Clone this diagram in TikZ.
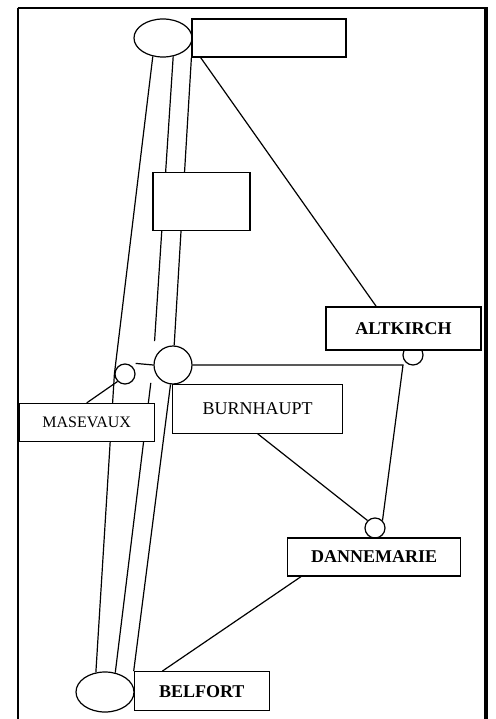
\documentclass[tikz,border=0pt]{standalone}
\usepackage{fontspec}
\setmainfont{Liberation Serif}
\usetikzlibrary{shapes.geometric,backgrounds}

\begin{document}
\begin{tikzpicture}[x=1pt,y=-1pt,line width=1.2pt,
    town/.style={draw,fill=white,rectangle,inner sep=0,font=\fontsize{18}{20}\selectfont},
    townbold/.style={town,font=\fontsize{18}{20}\selectfont\bfseries},
    stop/.style={draw,fill=white,circle,inner sep=0,minimum size=20},
    gare/.style={draw,fill=white,ellipse,inner sep=0,minimum width=58,minimum height=38}]
    \useasboundingbox (0,0) rectangle (495,719);
    %cadre
    \draw[line width=1.5pt] (18,719) -- (18,8.5);
    \draw[line width=2pt] (17.5,8.5) -- (486,8.5);
    \draw[line width=4pt] (486,7.5) -- (486,719);

    %gares
    \node[gare] (ellTop) at (163,38) {};
    \node[gare,minimum height=40] (ellBot) at (105,692) {};
    \node[town,minimum width=154,minimum height=38] (boxTop) at (269,38) {};
    \node[town,minimum width=97,minimum height=58] (boxMid) at (201.5,201.5) {};

    %arrets
    \node[stop,minimum size=38] (burnCirc) at (173,365) {};
    \node[stop] (masCirc) at (125,374) {};
    \node[stop] (altCirc) at (413,355) {};
    \node[stop] (danCirc) at (375,528) {};
    \coordinate (midKink) at (153,365);
    \coordinate (altJoint) at (403,365);

    %villes
    \node[townbold,minimum width=155,minimum height=43] (altBox) at (403.5,328.5) {ALTKIRCH};
    \node[town,font=\fontsize{16}{18}\selectfont,minimum width=135,minimum height=38] (masBox) at (86.7,422.5) {MASEVAUX};
    \node[town,minimum width=170,minimum height=49] (burnBox) at (257.7,408.7) {BURNHAUPT};
    \node[townbold,minimum width=173,minimum height=38] (danBox) at (374.2,557) {DANNEMARIE};
    \node[townbold,minimum width=135,minimum height=39] (belBox) at (201.8,691.2) {BELFORT};

    \begin{pgfonlayer}{background}
    \begin{scope}[line width=1.2pt]
        %voies
        \draw (ellTop.241) -- (masCirc.west) -- (ellBot.115);
        \draw[shorten >=24pt] (ellTop.299) -- (midKink);
        \draw[shorten <=18pt] (midKink) -- (ellBot.62);
        \draw (boxTop.south west) -- (burnCirc) -- (belBox.north west);
        %liaisons
        \draw (masCirc.north -| masCirc.east) -- (burnCirc.west);
        \draw (masCirc.south west) -- (masBox.north);
        \draw (burnCirc.east) -- (altJoint) -- (danCirc.north east);
        \draw (boxTop.196.5) -- (altBox.141.7);
        \draw (burnBox.south) -- (danCirc.north west);
        \draw (danBox.195.7) -- (belBox.153);
    \end{scope}
    \end{pgfonlayer}
\end{tikzpicture}
\end{document}
